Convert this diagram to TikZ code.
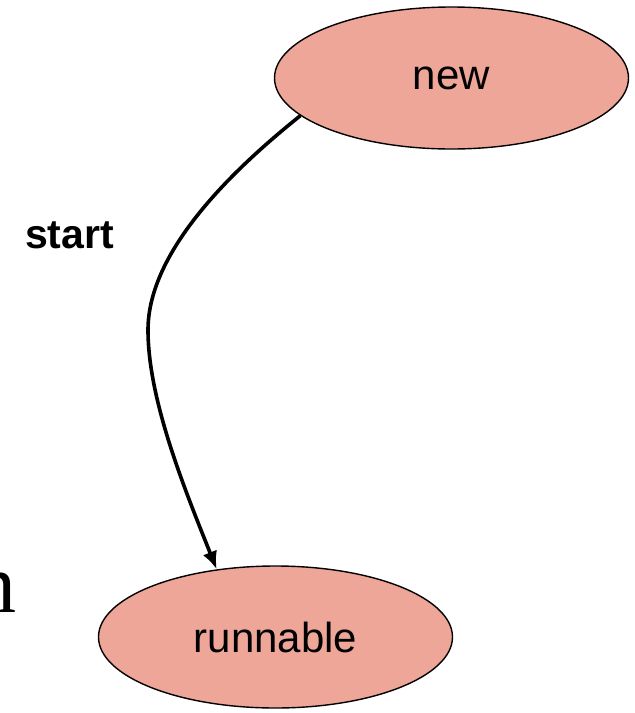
\documentclass[tikz,border=0pt]{standalone}
\usepackage{fontspec}
\setmainfont{Liberation Sans}
\newfontfamily\serifface{Liberation Serif}
\usetikzlibrary{shapes.geometric,arrows.meta}

\definecolor{statefill}{RGB}{238,166,153}

\tikzset{
  state/.style={ellipse, draw=black, line width=1.4pt, fill=statefill,
    minimum width=354pt, minimum height=142pt, inner sep=0pt,
    font=\fontsize{42}{50}\selectfont},
  transition/.style={line width=3.6pt, -{Latex[length=18pt,width=15pt]}},
  translabel/.style={font=\fontsize{41}{48}\selectfont\bfseries, inner sep=0pt},
}

\begin{document}
\begin{tikzpicture}[x=1pt,y=-1pt]
  \useasboundingbox (0,0) rectangle (635,713);

  % states
  \node[state] (new) at (451.5,78) {new};
  \node[state] (runnable) at (275.5,637) {runnable};

  % transition label
  \node[translabel, anchor=base] (startlbl) at (69.5,248.5) {start};

  % partly visible letter at the left margin
  \node[inner sep=0pt, anchor=base east, font=\serifface\fontsize{84}{96}\selectfont]
    (leftletter) at (17,612) {n};

  % new -> runnable
  \draw[transition] (new.194.8)
    .. controls (235,168) and (148,250) .. (148,330)
    .. controls (148,400) and (185,490) .. (runnable.131.7);
\end{tikzpicture}
\end{document}
